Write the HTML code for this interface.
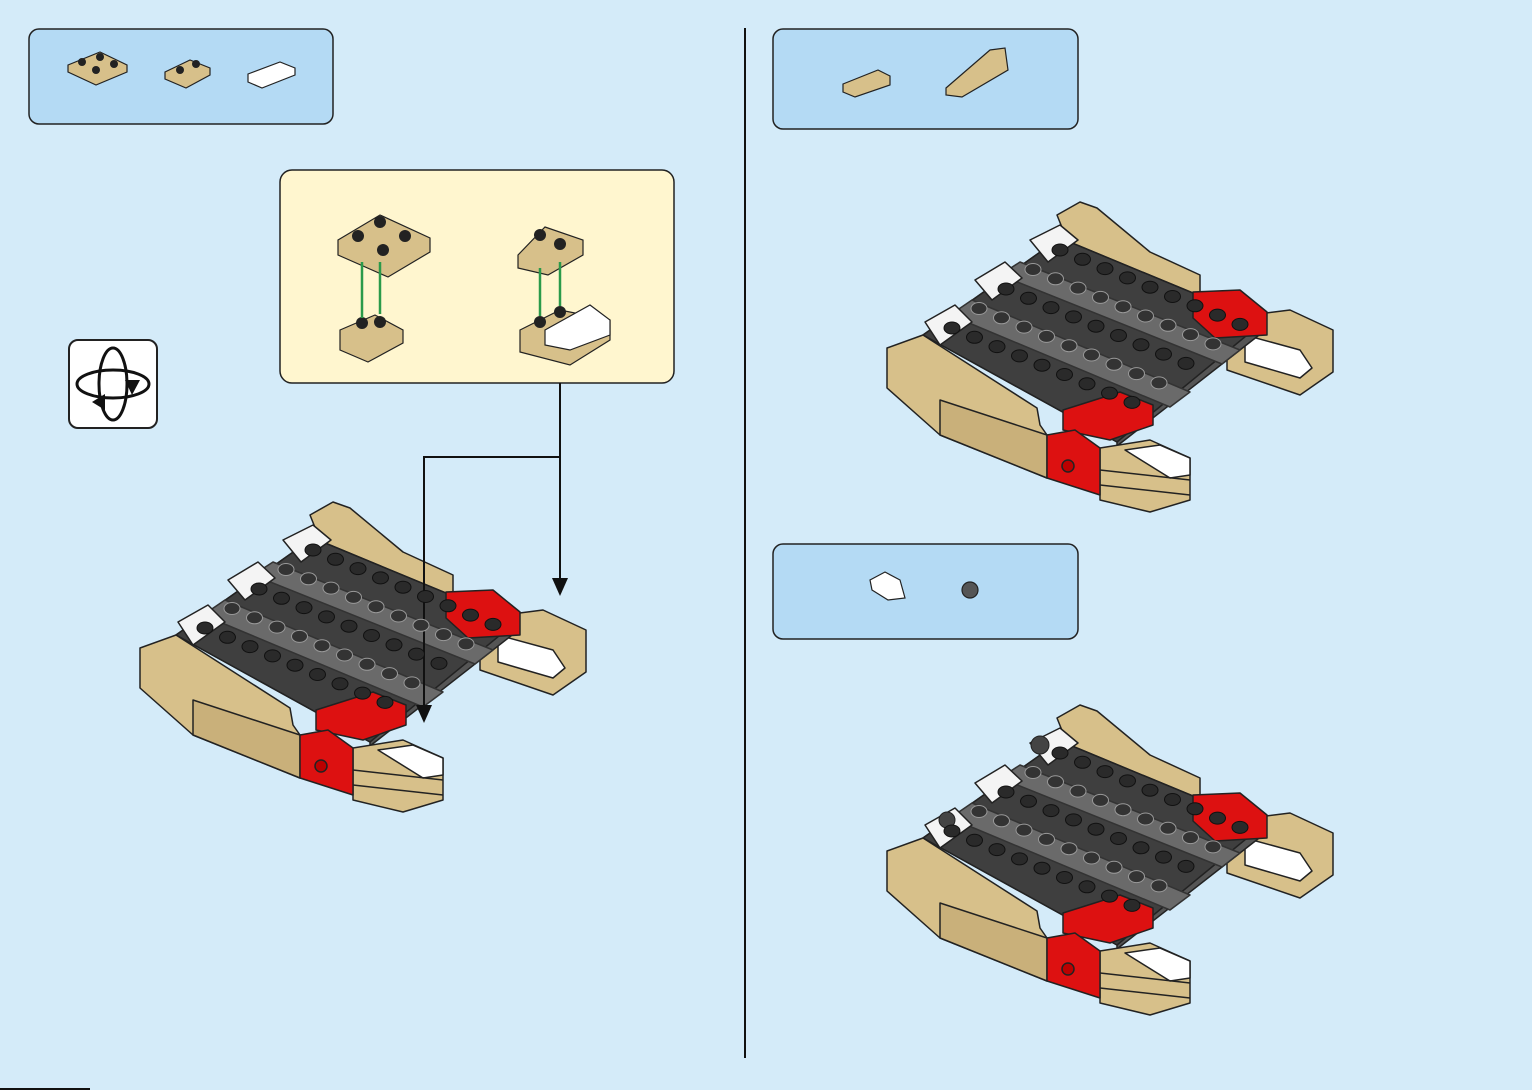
<!DOCTYPE html>
<html><head><meta charset="utf-8"><style>
html,body{margin:0;padding:0;background:#d4ebf9;}
svg{display:block}
</style></head><body>
<svg width="1532" height="1090" viewBox="0 0 1532 1090" xmlns="http://www.w3.org/2000/svg">
<defs>
<g id="m" stroke="#222" stroke-width="1.5" stroke-linejoin="round">
  <polygon points="1057,215 1080,202 1097,208 1150,252 1200,275 1200,300 1140,280 1067,240" fill="#d7c08a"/>
  <polygon points="1227,318 1290,310 1333,330 1333,372 1300,395 1227,370" fill="#d7c08a"/>
  <polygon points="1245,335 1300,350 1312,368 1300,378 1245,362" fill="#fff"/>
  <polygon points="923,335 1060,238 1263,322 1263,332 1117,446 1117,442" fill="#555"/>
  <polygon points="923,335 1060,238 1263,322 1117,442" fill="#3f3f3f"/>
  <polygon points="1000,275 1020,262 1240,350 1222,364" fill="#6a6a6a" stroke="#333"/>
  <polygon points="950,315 972,300 1190,392 1170,407" fill="#6a6a6a" stroke="#333"/>
  <polygon points="1030,240 1060,225 1078,240 1048,262" fill="#f4f4f4"/>
  <polygon points="975,280 1005,262 1022,278 992,300" fill="#f4f4f4"/>
  <polygon points="925,322 955,305 972,322 940,345" fill="#f4f4f4"/>
  <polygon points="1193,292 1240,290 1267,312 1267,335 1215,338 1193,318" fill="#d11" />
  <polygon points="887,348 923,335 1037,408 1040,425 1047,435 1047,478 940,435 887,388" fill="#d7c08a"/>
  <polygon points="940,400 1047,435 1047,478 940,435" fill="#c9b07a"/>
  <polygon points="1063,410 1120,392 1153,405 1153,425 1110,440 1063,430" fill="#d11"/>
  <polygon points="1100,448 1150,440 1190,458 1190,500 1150,512 1100,500" fill="#d7c08a"/>
  <polygon points="1125,450 1160,445 1190,458 1190,475 1170,478" fill="#fff"/>
  <line x1="1100" y1="470" x2="1190" y2="480"/><line x1="1100" y1="485" x2="1190" y2="495"/>
  <polygon points="1047,435 1075,430 1100,448 1100,495 1047,478" fill="#d11"/>
  <circle cx="1068" cy="466" r="6" fill="#b00"/>
</g>
</defs>

<rect x="29" y="29" width="304" height="95" rx="10" fill="#b4daf4" stroke="#222" stroke-width="1.5"/>
<rect x="773" y="29" width="305" height="100" rx="10" fill="#b4daf4" stroke="#222" stroke-width="1.5"/>
<rect x="773" y="544" width="305" height="95" rx="10" fill="#b4daf4" stroke="#222" stroke-width="1.5"/>
<rect x="280" y="170" width="394" height="213" rx="12" fill="#fff6cf" stroke="#222" stroke-width="1.5"/>
<line x1="745" y1="28" x2="745" y2="1058" stroke="#111" stroke-width="2"/>
<line x1="0" y1="1089" x2="90" y2="1089" stroke="#111" stroke-width="2"/>

<g stroke="#222" stroke-width="1.2" fill="#d7c08a">
<polygon points="68,65 100,52 127,65 127,72 96,85 68,72"/>
<polygon points="165,72 190,60 210,68 210,75 186,88 165,79"/>
<polygon points="248,74 280,62 295,68 295,75 262,88 248,82" fill="#fff"/>
<polygon points="843,84 878,70 890,76 890,85 855,97 843,92"/>
<polygon points="946,88 990,50 1005,48 1008,70 962,97 946,95"/>
<polygon points="870,580 885,572 900,580 905,598 888,600 872,590" fill="#fff"/>
<circle cx="970" cy="590" r="8" fill="#555"/>
<polygon points="338,240 380,215 430,238 430,252 388,277 338,255"/>
<polygon points="340,330 375,315 403,330 403,343 368,362 340,350"/>
<polygon points="518,255 545,227 583,240 583,255 548,275 518,268"/>
<polygon points="520,330 560,310 610,320 610,340 570,365 520,352"/>
<polygon points="545,330 590,305 610,320 610,335 570,350 545,345" fill="#fff"/>
</g>
<g fill="#222">
<circle cx="82" cy="62" r="4"/><circle cx="100" cy="57" r="4"/><circle cx="96" cy="70" r="4"/><circle cx="114" cy="64" r="4"/>
<circle cx="180" cy="70" r="4"/><circle cx="196" cy="64" r="4"/>
<circle cx="380" cy="222" r="6"/><circle cx="358" cy="236" r="6"/><circle cx="405" cy="236" r="6"/><circle cx="383" cy="250" r="6"/>
<circle cx="362" cy="323" r="6"/><circle cx="380" cy="322" r="6"/>
<circle cx="540" cy="235" r="6"/><circle cx="560" cy="244" r="6"/>
<circle cx="540" cy="322" r="6"/><circle cx="560" cy="312" r="6"/>
</g>
<g stroke="#2a9a4a" stroke-width="2.5">
<line x1="362" y1="262" x2="362" y2="318"/><line x1="380" y1="262" x2="380" y2="314"/>
<line x1="540" y1="268" x2="540" y2="316"/><line x1="560" y1="262" x2="560" y2="306"/>
</g>

<rect x="69" y="340" width="88" height="88" rx="9" fill="#fff" stroke="#222" stroke-width="2"/>
<ellipse cx="113" cy="384" rx="14" ry="36" fill="none" stroke="#111" stroke-width="3"/>
<ellipse cx="113" cy="384" rx="36" ry="14" fill="none" stroke="#111" stroke-width="3"/>
<polygon points="125,380 140,380 132,395" fill="#111"/>
<polygon points="105,394 105,410 92,402" fill="#111"/>

<use href="#m" transform="translate(-747,300)"/>
<use href="#m"/>
<use href="#m" transform="translate(0,503)"/>
<g fill="#444" stroke="#222">
<circle cx="1040" cy="745" r="9"/><circle cx="947" cy="820" r="8"/>
</g>

<g stroke="#111" stroke-width="2" fill="none">
<polyline points="560,383 560,580"/>
<polyline points="560,457 424,457 424,708"/>
</g>
<polygon points="552,578 568,578 560,596" fill="#111"/>
<polygon points="416,705 432,705 424,723" fill="#111"/>

<script>
(function(){
 var svg=document.querySelector('svg'),ns='http://www.w3.org/2000/svg';
 function grid(ox,oy){
  for(var j=0;j<5;j++)for(var i=0;i<9;i++){
   var x=ox+i*22.5-j*27+10, y=oy+i*9.3+j*19.5+12;
   var c=document.createElementNS(ns,'ellipse');
   c.setAttribute('cx',x);c.setAttribute('cy',y);c.setAttribute('rx',8);c.setAttribute('ry',6);
   c.setAttribute('fill',j%2?'#333':'#2a2a2a');c.setAttribute('stroke',j%2?'#999':'#111');
   svg.appendChild(c);
  }
 }
 grid(1050,238);grid(1050,741);grid(303,538);
})();
</script>
</svg>
</body></html>
